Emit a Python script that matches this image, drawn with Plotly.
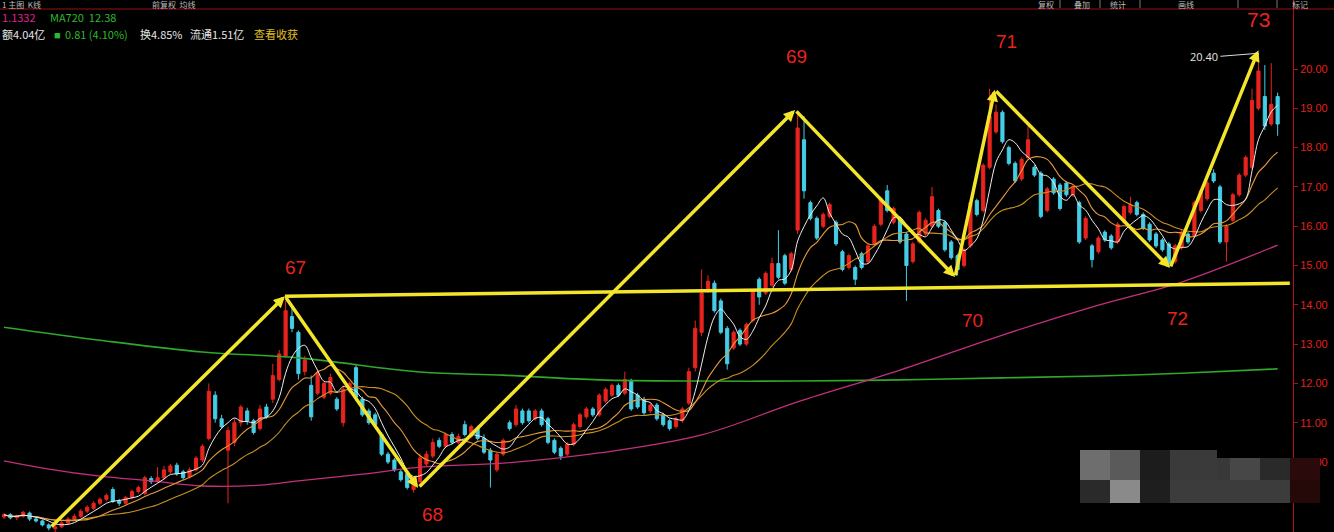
import plotly.graph_objects as go
import pandas as pd

# ---------------- data ----------------
opens = [8.60, 8.66, 8.58, 8.62, 8.70, 8.55, 8.50, 8.40, 8.30, 8.35,
         8.45, 8.55, 8.62, 8.75, 8.82, 8.95, 9.05, 9.30, 9.00, 8.95,
         9.10, 9.25, 9.20, 9.58, 9.50, 9.60, 9.75, 9.92, 9.75, 9.62,
         9.80, 10.05, 10.60, 11.70, 11.10, 10.30, 10.50, 11.00, 11.30, 11.05,
         10.85, 11.40, 11.60, 12.10, 12.70, 13.70, 13.30, 12.30, 11.95, 11.75,
         11.65, 11.75, 11.60, 11.00, 11.80, 12.40, 11.60, 11.30, 11.20, 10.70,
         10.20, 10.05, 9.75, 9.70, 9.30, 9.50, 9.95, 10.15, 10.55, 10.40,
         10.70, 10.50, 10.95, 10.65, 10.85, 10.60, 10.30, 9.80, 10.20, 11.00,
         10.95, 11.30, 11.30, 11.10, 11.30, 11.10, 10.55, 10.35, 10.20, 10.45,
         10.90, 11.15, 11.35, 11.20, 11.55, 11.70, 11.95, 11.75, 12.05, 11.70,
         11.60, 11.30, 11.45, 11.20, 11.05, 10.90, 11.05, 11.50, 12.40, 13.30,
         14.40, 14.55, 14.10, 13.40, 12.90, 13.35, 13.00, 13.60, 14.65, 14.30,
         14.50, 15.05, 15.25, 14.90, 15.90, 18.20, 16.60, 16.20, 16.00, 16.25,
         16.10, 15.35, 14.95, 14.95, 15.30, 15.10, 15.55, 16.05, 16.90, 16.10,
         16.20, 15.80, 15.10, 15.60, 15.80, 16.00, 16.40, 16.10, 15.60, 15.25,
         15.00, 15.50, 16.65, 16.40, 17.50, 18.40, 18.90, 18.00, 17.60, 17.20,
         17.75, 17.50, 17.35, 16.40, 17.20, 17.05, 17.10, 16.80, 16.60, 15.70,
         15.50, 15.35, 15.85, 15.75, 15.60, 16.10, 16.35, 16.60, 16.30, 16.05,
         15.80, 15.65, 15.55, 15.10, 15.45, 15.80, 15.75, 16.40, 16.70, 17.35,
         17.00, 15.60, 16.15, 16.80, 17.30, 17.50, 19.00, 19.30, 18.60, 19.30]

highs = [8.70, 8.70, 8.66, 8.76, 8.74, 8.60, 8.54, 8.44, 8.40, 8.50,
         8.60, 8.68, 8.80, 8.90, 9.00, 9.10, 9.20, 9.36, 9.06, 9.14,
         9.30, 9.40, 9.65, 9.64, 9.87, 9.90, 9.95, 9.98, 9.80, 9.86,
         10.15, 10.45, 12.00, 11.80, 11.20, 10.90, 11.10, 11.45, 11.38, 11.10,
         11.45, 11.48, 12.50, 12.85, 14.10, 13.95, 13.35, 12.70, 12.20, 12.35,
         12.05, 12.25, 11.65, 11.95, 12.05, 12.50, 11.66, 11.36, 11.26, 10.76,
         10.26, 10.10, 9.80, 9.75, 9.50, 10.20, 10.28, 10.60, 10.62, 10.75,
         10.76, 10.72, 11.05, 10.95, 10.92, 10.70, 10.36, 10.25, 10.60, 11.06,
         11.45, 11.36, 11.36, 11.35, 11.36, 11.15, 10.60, 10.40, 10.50, 11.00,
         11.25, 11.40, 11.40, 11.75, 11.90, 12.00, 12.00, 12.30, 12.12, 11.76,
         11.66, 11.50, 11.50, 11.25, 11.10, 11.15, 11.40, 12.40, 13.60, 14.90,
         14.75, 14.62, 14.16, 13.46, 13.35, 13.40, 13.55, 14.40, 14.70, 14.85,
         15.20, 15.90, 15.30, 15.35, 18.85, 18.80, 16.65, 16.25, 16.35, 16.60,
         16.15, 15.40, 15.30, 15.00, 15.35, 15.55, 16.05, 16.75, 17.05, 16.50,
         16.25, 15.85, 15.60, 16.40, 16.20, 17.00, 16.45, 16.15, 15.65, 15.30,
         15.45, 16.65, 16.70, 17.60, 19.50, 19.10, 18.95, 18.05, 17.65, 17.75,
         18.55, 17.55, 17.40, 17.00, 17.25, 17.10, 17.15, 17.05, 16.65, 16.25,
         15.55, 15.75, 15.90, 15.80, 16.10, 16.55, 16.75, 16.65, 16.35, 16.10,
         15.85, 15.70, 15.60, 15.55, 15.90, 15.85, 16.65, 16.95, 17.15, 17.45,
         17.05, 16.05, 16.85, 17.35, 17.80, 19.50, 20.40, 20.10, 20.15, 19.40]

lows = [8.55, 8.54, 8.52, 8.58, 8.50, 8.46, 8.36, 8.26, 8.22, 8.32,
        8.42, 8.50, 8.58, 8.70, 8.78, 8.90, 9.00, 8.96, 8.88, 8.92,
        9.05, 9.20, 9.15, 9.44, 9.46, 9.55, 9.70, 9.65, 9.55, 9.58,
        9.76, 10.00, 10.55, 11.00, 10.85, 8.95, 10.40, 10.90, 10.95, 10.70,
        10.80, 11.10, 11.50, 12.05, 12.65, 13.30, 12.10, 12.20, 11.05, 11.70,
        11.60, 11.70, 11.30, 10.90, 11.75, 11.55, 11.15, 10.95, 10.90, 10.15,
        9.95, 9.75, 9.50, 9.30, 9.22, 9.45, 9.90, 10.10, 10.35, 10.35,
        10.45, 10.45, 10.65, 10.60, 10.55, 10.20, 9.35, 9.75, 10.15, 10.80,
        10.90, 10.95, 11.00, 11.05, 10.90, 10.45, 10.20, 10.05, 10.15, 10.40,
        10.85, 11.10, 11.15, 11.15, 11.50, 11.65, 11.65, 11.70, 11.30, 11.35,
        11.20, 11.25, 11.05, 10.90, 10.80, 10.85, 11.00, 11.45, 12.30, 13.20,
        14.30, 13.80, 13.25, 12.35, 12.85, 12.95, 12.95, 13.55, 14.00, 14.25,
        14.45, 14.65, 14.50, 14.85, 15.80, 16.70, 16.15, 15.65, 15.95, 16.20,
        15.50, 14.85, 14.90, 14.50, 14.90, 15.05, 15.50, 16.00, 16.35, 16.05,
        15.55, 14.10, 15.05, 15.55, 15.75, 15.95, 15.95, 15.35, 15.15, 14.75,
        14.95, 15.45, 16.25, 16.35, 17.45, 18.35, 18.10, 17.55, 17.10, 17.15,
        17.70, 17.25, 16.20, 16.35, 16.80, 16.40, 16.75, 16.75, 15.55, 15.65,
        14.95, 15.30, 15.60, 15.40, 15.55, 16.05, 16.30, 16.25, 15.90, 15.60,
        15.45, 15.35, 14.95, 15.05, 15.40, 15.55, 15.70, 16.35, 16.65, 17.10,
        15.55, 15.10, 16.10, 16.75, 17.25, 17.45, 18.95, 18.45, 18.55, 18.30]

closes = [8.66, 8.58, 8.62, 8.72, 8.55, 8.50, 8.40, 8.32, 8.35, 8.45,
          8.55, 8.62, 8.75, 8.85, 8.95, 9.05, 9.15, 9.00, 8.95, 9.10,
          9.25, 9.35, 9.60, 9.50, 9.60, 9.80, 9.90, 9.70, 9.60, 9.80,
          10.10, 10.40, 11.80, 11.10, 10.90, 10.80, 11.00, 11.40, 11.05, 10.75,
          11.35, 11.15, 12.20, 12.75, 13.85, 13.40, 12.25, 12.60, 11.15, 12.25,
          12.00, 12.15, 11.35, 11.85, 12.00, 11.65, 11.20, 11.00, 10.95, 10.20,
          10.00, 9.80, 9.55, 9.35, 9.45, 10.10, 10.20, 10.50, 10.40, 10.70,
          10.50, 10.65, 10.70, 10.90, 10.60, 10.25, 10.05, 10.20, 10.55, 10.85,
          11.35, 11.00, 11.05, 11.30, 10.95, 10.50, 10.25, 10.15, 10.45, 10.95,
          11.20, 11.35, 11.20, 11.70, 11.85, 11.95, 11.70, 12.10, 11.35, 11.40,
          11.25, 11.45, 11.10, 10.95, 10.85, 11.10, 11.35, 12.30, 13.40, 14.30,
          14.60, 13.85, 13.30, 12.50, 13.30, 13.00, 13.50, 14.35, 14.20, 14.80,
          15.05, 14.70, 14.55, 15.30, 18.50, 16.90, 16.20, 15.70, 16.30, 16.55,
          15.55, 14.90, 15.25, 14.65, 14.95, 15.50, 16.00, 16.70, 16.40, 16.45,
          15.60, 15.00, 15.55, 16.35, 16.15, 16.75, 16.00, 15.40, 15.20, 14.90,
          15.40, 16.60, 16.30, 17.55, 18.80, 18.90, 18.15, 17.60, 17.15, 17.70,
          18.20, 17.30, 16.25, 16.95, 16.85, 16.45, 16.80, 17.00, 15.60, 16.20,
          15.15, 15.70, 15.65, 15.45, 16.05, 16.50, 16.55, 16.30, 15.95, 15.65,
          15.50, 15.40, 15.05, 15.50, 15.85, 15.60, 16.60, 16.90, 17.10, 17.15,
          15.60, 16.00, 16.80, 17.30, 17.75, 19.20, 19.95, 18.55, 19.10, 18.60]

days = list(range(len(closes)))

# long moving averages (history not visible)
ma_long_green_idx = [0, 15, 31, 46, 65, 78, 93, 109, 124, 140, 156, 171, 184, 199]
ma_long_green_val = [13.43, 13.10, 12.80, 12.65, 12.29, 12.21, 12.09, 12.06, 12.06, 12.09, 12.14, 12.19, 12.26, 12.37]
ma_long_pink_idx = [0, 7, 15, 23, 31, 40, 46, 56, 65, 78, 93, 109, 124, 140, 156, 171, 184, 199]
ma_long_pink_val = [10.03, 9.82, 9.64, 9.52, 9.39, 9.41, 9.52, 9.69, 9.87, 9.97, 10.23, 10.69, 11.53, 12.34, 13.23, 13.99, 14.58, 15.52]

# hand-drawn wave annotation (yellow)
wave_idx = [7.2, 43.9, 64.7, 123.6, 148.6, 154.8, 182.2, 196.0]
wave_price = [8.32, 14.22, 9.34, 18.96, 14.71, 19.47, 14.94, 20.48]
neck_idx = [43.9, 200.9]
neck_price = [14.22, 14.55]

wave_labels = ["67", "68", "69", "70", "71", "72", "73"]
label_idx = [45.5, 66.9, 123.9, 151.3, 156.6, 183.3, 196.0]
label_price = [14.94, 8.66, 20.31, 13.61, 20.69, 13.66, 21.25]

y_ticks = [10, 11, 12, 13, 14, 15, 16, 17, 18, 19, 20]

# ---------------- figure ----------------
closes_s = pd.Series(closes)
ma5 = closes_s.rolling(5, min_periods=1).mean()
ma10 = closes_s.rolling(10, min_periods=1).mean()
ma20 = closes_s.rolling(20, min_periods=1).mean()

RED = "#e8241e"
CYAN = "#45cde6"
YEL = "#f2e52a"

fig = go.Figure()

fig.add_trace(go.Scatter(x=ma_long_green_idx, y=ma_long_green_val, mode="lines",
                         line=dict(color="#2fa82c", width=1.6, shape="spline"), hoverinfo="skip"))
fig.add_trace(go.Scatter(x=ma_long_pink_idx, y=ma_long_pink_val, mode="lines",
                         line=dict(color="#c2307e", width=1.3, shape="spline"), hoverinfo="skip"))

fig.add_trace(go.Candlestick(
    x=days, open=opens, high=highs, low=lows, close=closes,
    increasing=dict(line=dict(color=RED, width=1), fillcolor=RED),
    decreasing=dict(line=dict(color=CYAN, width=1), fillcolor=CYAN),
    whiskerwidth=0,
))

fig.add_trace(go.Scatter(x=days, y=ma20, mode="lines",
                         line=dict(color="#c89022", width=1.1, shape="spline"), hoverinfo="skip"))
fig.add_trace(go.Scatter(x=days, y=ma10, mode="lines",
                         line=dict(color="#e89a3a", width=1.1, shape="spline"), hoverinfo="skip"))
fig.add_trace(go.Scatter(x=days, y=ma5, mode="lines",
                         line=dict(color="#eeeeee", width=1, shape="spline"), hoverinfo="skip"))

# neckline
fig.add_trace(go.Scatter(x=neck_idx, y=neck_price, mode="lines",
                         line=dict(color=YEL, width=3.5), hoverinfo="skip"))

annotations = []
# wave segments as arrows
for k in range(len(wave_idx) - 1):
    annotations.append(dict(
        x=wave_idx[k + 1], y=wave_price[k + 1], ax=wave_idx[k], ay=wave_price[k],
        xref="x", yref="y", axref="x", ayref="y", text="", showarrow=True,
        arrowhead=2, arrowsize=0.65, arrowwidth=3.5, arrowcolor=YEL))

for t, xi, yi in zip(wave_labels, label_idx, label_price):
    annotations.append(dict(x=xi, y=yi, xref="x", yref="y", text=t, showarrow=False,
                            font=dict(color=RED, size=21 if t == "73" else 19,
                                      family="Liberation Sans, Arial, sans-serif")))

# high price mark
annotations.append(dict(x=196, y=20.40, xref="x", yref="y", text="20.40", showarrow=True,
                        ax=-38, ay=3, arrowhead=0, arrowwidth=1, arrowcolor="#dddddd",
                        xanchor="right", font=dict(color="#e6e6e6", size=11)))

W = 1293.0
H = 532.0


def px(xp):
    return xp / W


def py(yp):
    return 1 - yp / H


header = [
    (0, 4, "1 主图  K线", "#bbbbbb", 8),
    (150, 4, "前复权  均线", "#bbbbbb", 8),
    (0, 17, "1.1332", "#e0208f", 11),
    (48, 17, "MA720  12.38", "#2fb82c", 11),
    (0, 34, "额4.04亿", "#e6e6e6", 11),
    (63, 34, "0.81 (4.10%)", "#2fb82c", 11),
    (138, 34, "换4.85%", "#e6e6e6", 11),
    (188, 34, "流通1.51亿", "#e6e6e6", 11),
    (252, 34, "查看收获", "#e0c020", 11),
    (1036, 4, "复权", "#bbbbbb", 8),
    (1072, 4, "叠加", "#bbbbbb", 8),
    (1108, 4, "统计", "#bbbbbb", 8),
    (1176, 4, "画线", "#bbbbbb", 8),
    (1290, 4, "标记", "#bbbbbb", 8),
]
for xp, yp, t, c, fs in header:
    annotations.append(dict(x=px(xp), y=py(yp), xref="paper", yref="paper", text=t,
                            showarrow=False, xanchor="left", yanchor="middle",
                            font=dict(color=c, size=fs, family="Noto Sans CJK SC, sans-serif")))
annotations.append(dict(x=px(52), y=py(34), xref="paper", yref="paper", text="■",
                        showarrow=False, xanchor="left", yanchor="middle",
                        font=dict(color="#2fb82c", size=11)))

shapes = []
# top separator line
shapes.append(dict(type="line", xref="paper", yref="paper", x0=0, x1=1.05, y0=py(9), y1=py(9),
                   line=dict(color="#9a1010", width=1)))
for xp in [1060, 1100, 1140, 1238, 1277]:
    shapes.append(dict(type="line", xref="paper", yref="paper", x0=px(xp), x1=px(xp),
                       y0=py(0), y1=py(8), line=dict(color="#777777", width=1)))

# mosaic block (blurred region)
mosaic = [
    (1080, 1110, 450, 480, "#6e6e6e"), (1110, 1140, 450, 480, "#5a5a5a"),
    (1140, 1170, 450, 480, "#1c1c1c"), (1170, 1217, 450, 480, "#3a3a3a"),
    (1217, 1230, 458, 480, "#383838"), (1230, 1260, 458, 480, "#474747"),
    (1260, 1290, 458, 480, "#2a2a2a"), (1290, 1320, 458, 480, "#2a0a0a"),
    (1080, 1110, 480, 503, "#2a2a2a"), (1110, 1140, 480, 503, "#8a8a8a"),
    (1140, 1170, 480, 503, "#1e1e1e"), (1170, 1290, 480, 503, "#3c3c3c"),
    (1290, 1320, 480, 503, "#250808"),
]
for x0, x1, y0, y1, c in mosaic:
    shapes.append(dict(type="rect", xref="paper", yref="paper", x0=px(x0), x1=px(x1),
                       y0=py(y1), y1=py(y0), fillcolor=c, line=dict(width=0), layer="above"))

fig.update_layout(
    width=1334, height=532,
    margin=dict(l=0, r=41, t=0, b=0, autoexpand=False),
    paper_bgcolor="#000000", plot_bgcolor="#000000",
    showlegend=False,
    annotations=annotations,
    shapes=shapes,
    xaxis=dict(range=[-0.625, 201.4], showgrid=False, zeroline=False, showticklabels=False,
               rangeslider=dict(visible=False), showline=False, ticks="", automargin=False),
    yaxis=dict(range=[8.219, 21.756], side="right", showgrid=False, zeroline=False,
               tickvals=y_ticks, tickformat=".2f", ticks="outside", ticklen=4,
               tickcolor="#b01010", showline=True, linecolor="#b01010", linewidth=1,
               automargin=False,
               tickfont=dict(color="#e0201c", size=11, family="Liberation Sans, sans-serif")),
    hovermode=False,
)

fig.write_html("out.html",
               config={"displayModeBar": False},
               post_script="document.body.style.margin='0';document.body.style.background='#000';")
